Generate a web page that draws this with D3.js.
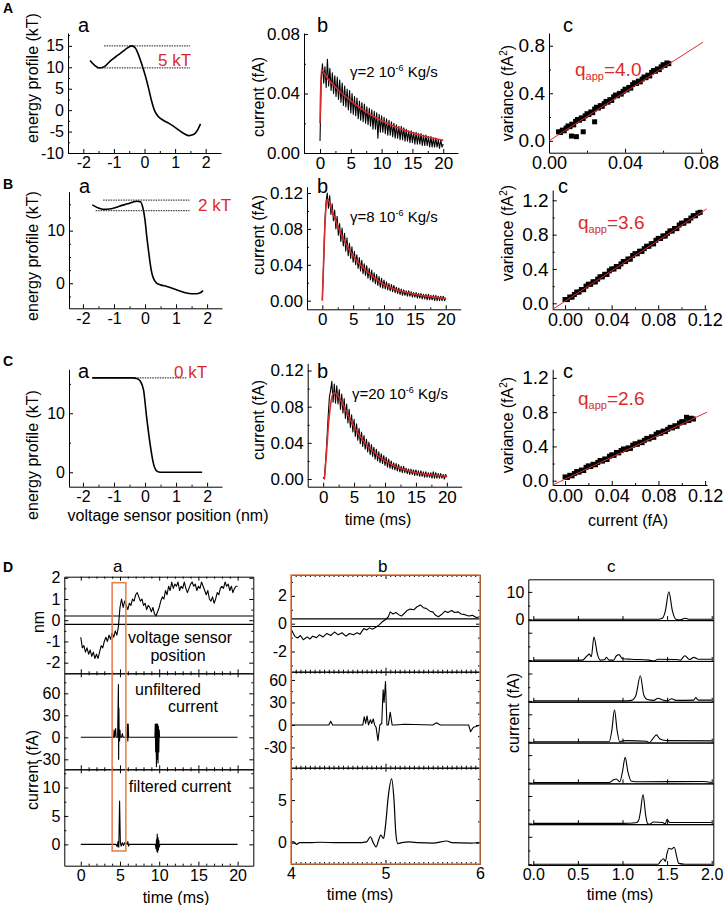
<!DOCTYPE html>
<html>
<head>
<meta charset="utf-8">
<title>Voltage sensor energy profiles and gating currents</title>
<script src="https://d3js.org/d3.v7.min.js"></script>
<style>
  body { margin: 0; background: #fff; }
  text { font-family: "Liberation Sans", Arial, sans-serif; fill: #000; }
</style>
</head>
<body>
<script>
// ---------- data ----------
// energy profiles (position nm, energy kT)
const posA = [-1.78,-1.62,-1.46,-1.3,-1.13,-0.95,-0.8,-0.6,-0.42,-0.3,-0.18,-0.08,0.02,0.13,0.23,0.34,0.45,0.6,0.8,1.0,1.15,1.3,1.45,1.6,1.72,1.83];
const energyA = [11.6,10.4,9.85,10.2,11.4,12.4,13.2,14.3,15.0,14.5,12.6,10.5,8.2,5.2,2.2,-0.3,-1.5,-2.3,-3.1,-4.0,-4.8,-5.5,-5.95,-5.7,-4.8,-3.2];
const posB = [-1.7,-1.5,-1.35,-1.15,-0.95,-0.75,-0.55,-0.4,-0.27,-0.15,-0.08,0.0,0.05,0.11,0.17,0.22,0.3,0.38,0.5,0.7,0.9,1.1,1.3,1.5,1.65,1.78,1.87];
const energyB = [14.9,14.3,14.05,14.1,14.4,14.8,15.1,15.4,15.6,15.5,14.6,12.0,9.2,6.3,3.6,1.9,0.6,0.0,-0.3,-0.6,-1.0,-1.4,-1.8,-2.0,-2.0,-1.8,-1.4];
const posC = [-1.7,-1.2,-0.7,-0.4,-0.27,-0.16,-0.05,0.05,0.16,0.27,0.38,0.5,0.8,1.2,1.5,1.84];
const energyC = [16,16,16,16,15.9,15.5,14.0,9.4,4.9,1.5,0.2,0,0,0,0,0];
// barrier levels: [energy, from, to]
const levelsA = [[15.0,-1.32,1.49],[9.84,-1.56,1.49]];
const levelsB = [[15.8,-1.35,1.43],[13.8,-1.59,1.43]];
const levelsC = [[16.0,-1.7,1.35]];
const barrierLabels = ["5 kT","2 kT","0 kT"];

// mean gating currents, sampled every 0.2 ms from 0 to 20 ms (fA)
const sampleDt = 0.2;
const currentA = [0.008,0.050,0.060,0.047,0.058, 0.044,0.063,0.045,0.057,0.042, 0.054,0.040,0.052,0.038,0.051,
  0.036,0.049,0.034,0.047,0.032, 0.045,0.031,0.043,0.029,0.042, 0.027,0.040,0.026,0.038,0.025,
  0.037,0.023,0.035,0.022,0.034, 0.021,0.033,0.020,0.031,0.019, 0.030,0.018,0.029,0.016,0.028,
  0.016,0.027,0.010,0.026,0.014, 0.025,0.014,0.024,0.013,0.023, 0.012,0.022,0.012,0.021,0.011,
  0.020,0.010,0.019,0.010,0.018, 0.009,0.018,0.009,0.017,0.008, 0.016,0.008,0.015,0.007,0.015,
  0.007,0.014,0.006,0.014,0.006, 0.013,0.006,0.013,0.005,0.012, 0.005,0.012,0.005,0.011,0.004,
  0.011,0.004,0.010,0.004,0.010, 0.004,0.009,0.003,0.009,0.004, 0.006];
const currentB = [0.001,0.040,0.085,0.110,0.120, 0.103,0.117,0.096,0.108,0.089, 0.101,0.080,0.094,0.073,0.086,
  0.066,0.081,0.061,0.075,0.055, 0.070,0.050,0.064,0.047,0.060, 0.043,0.055,0.040,0.051,0.036,
  0.048,0.033,0.045,0.030,0.041, 0.028,0.039,0.025,0.036,0.023, 0.034,0.021,0.031,0.019,0.029,
  0.017,0.027,0.015,0.025,0.014, 0.023,0.013,0.021,0.012,0.019, 0.011,0.018,0.010,0.017,0.009,
  0.015,0.008,0.014,0.007,0.013, 0.006,0.012,0.006,0.011,0.005, 0.011,0.005,0.010,0.004,0.009,
  0.004,0.009,0.003,0.008,0.003, 0.008,0.002,0.007,0.002,0.007, 0.001,0.007,0.001,0.006,0.001,
  0.006,0.000,0.006,0.000,0.005, 0.000,0.005,0.000,0.005,0.000, 0.003];
const currentC = [0.002,0.000,0.020,0.042,0.068, 0.090,0.098,0.108,0.085,0.105, 0.084,0.103,0.083,0.099,0.077,
  0.094,0.073,0.089,0.067,0.083, 0.062,0.077,0.057,0.071,0.052, 0.066,0.047,0.061,0.043,0.056,
  0.039,0.052,0.036,0.048,0.033, 0.044,0.030,0.041,0.027,0.038, 0.025,0.035,0.022,0.033,0.020,
  0.030,0.018,0.028,0.017,0.026, 0.015,0.024,0.013,0.022,0.012, 0.020,0.011,0.018,0.010,0.017,
  0.009,0.016,0.008,0.014,0.007, 0.014,0.007,0.012,0.006,0.011, 0.005,0.011,0.005,0.010,0.004,
  0.010,0.004,0.009,0.003,0.009, 0.003,0.008,0.002,0.008,0.002, 0.007,0.002,0.007,0.001,0.008,
  0.001,0.007,0.001,0.006,0.001, 0.006,0.001,0.005,0.000,0.005, 0.002];
// fitted curves (red)
const fitTimeA = [0,0.2,1,2,3,4,5,6,8,10,12,14,16,18,20];
const fitCurA = [0.02,0.056,0.0513,0.0466,0.0424,0.0385,0.035,0.0318,0.0263,0.0217,0.018,0.0149,0.0123,0.0102,0.0085];
const fitTimeB = [0,0.2,0.4,0.6,0.8,1.0,1.5,2,3,4,5,6,7,8,10,12,14,16,18,20];
const fitCurB = [0,0.04,0.08,0.104,0.113,0.112,0.102,0.092,0.075,0.061,0.05,0.041,0.034,0.028,0.018,0.012,0.0085,0.0058,0.004,0.0026];
const fitTimeC = [0.2,0.5,0.8,1.1,1.4,1.7,2.0,2.5,3,4,5,6,7,8,10,12,14,16,18,20];
const fitCurC = [0,0.025,0.055,0.077,0.09,0.095,0.095,0.091,0.085,0.071,0.058,0.047,0.038,0.031,0.02,0.013,0.0085,0.0058,0.0042,0.0032];
const gammaValues = ["2","8","20"];

// variance vs mean current
const meanA = [0.005,0.006,0.007,0.008,0.009,0.010,0.011,0.012,0.013,0.014,0.015,0.016,0.017,0.018,0.019,0.020,
  0.021,0.022,0.023,0.024,0.025,0.026,0.027,0.028,0.029,0.030,0.031,0.032,0.033,0.034,0.035,0.036,0.037,0.038,
  0.039,0.040,0.041,0.042,0.043,0.044,0.045,0.046,0.047,0.048,0.049,0.050,0.051,0.052,0.053,0.054,0.055,0.056,
  0.057,0.058,0.059,0.060,0.061,0.062,0.063,0.0118,0.0144,0.018,0.024];
const varA = [0.076,0.070,0.090,0.084,0.107,0.125,0.119,0.140,0.134,0.164,0.179,0.173,0.193,0.187,0.210,0.228,
  0.222,0.243,0.237,0.267,0.282,0.276,0.296,0.290,0.313,0.331,0.325,0.346,0.340,0.370,0.385,0.379,0.399,0.393,
  0.416,0.434,0.428,0.449,0.443,0.473,0.488,0.482,0.502,0.496,0.519,0.537,0.531,0.552,0.546,0.576,0.591,0.585,
  0.605,0.599,0.622,0.640,0.634,0.655,0.649,0.040,0.035,0.076,0.160];
const meanB = [0.000,0.002,0.004,0.006,0.008,0.010,0.012,0.014,0.016,0.018,0.020,0.022,0.024,0.026,0.028,0.030,
  0.032,0.034,0.036,0.038,0.040,0.042,0.044,0.046,0.048,0.050,0.052,0.054,0.056,0.058,0.060,0.062,0.064,0.066,
  0.068,0.070,0.072,0.074,0.076,0.078,0.080,0.082,0.084,0.086,0.088,0.090,0.092,0.094,0.096,0.098,0.100,0.102,
  0.104,0.106,0.108,0.110,0.112,0.114,0.116];
const varB = [0.044,0.043,0.073,0.071,0.103,0.131,0.130,0.160,0.158,0.200,0.222,0.221,0.251,0.249,0.281,0.309,
  0.308,0.338,0.336,0.378,0.400,0.399,0.429,0.427,0.459,0.487,0.486,0.516,0.514,0.556,0.578,0.577,0.607,0.605,
  0.637,0.665,0.664,0.694,0.692,0.734,0.756,0.755,0.785,0.783,0.815,0.843,0.842,0.872,0.870,0.912,0.934,0.933,
  0.963,0.961,0.993,1.021,1.020,1.050,1.060];
const meanC = [0.000,0.002,0.004,0.006,0.008,0.010,0.012,0.014,0.016,0.018,0.020,0.022,0.024,0.026,0.028,0.030,
  0.032,0.034,0.036,0.038,0.040,0.042,0.044,0.046,0.048,0.050,0.052,0.054,0.056,0.058,0.060,0.062,0.064,0.066,
  0.068,0.070,0.072,0.074,0.076,0.078,0.080,0.082,0.084,0.086,0.088,0.090,0.092,0.094,0.096,0.098,0.100,0.102,
  0.104,0.106,0.108,0.110];
const varC = [0.044,0.038,0.063,0.057,0.084,0.107,0.100,0.125,0.119,0.156,0.173,0.167,0.192,0.186,0.213,0.236,
  0.229,0.254,0.248,0.285,0.302,0.296,0.330,0.325,0.352,0.370,0.365,0.383,0.377,0.414,0.431,0.425,0.450,0.444,
  0.471,0.494,0.487,0.512,0.506,0.543,0.560,0.554,0.579,0.573,0.600,0.623,0.616,0.641,0.635,0.672,0.689,0.683,
  0.740,0.702,0.729,0.720];
const fitMeanA = [0,0.081], fitVarA = [0,0.83];
const fitMeanB = [-0.0106,0.1216], fitVarB = [-0.07,1.10];
const fitMeanC = [-0.0106,0.1216], fitVarC = [-0.05,0.80];
const qApp = ["4.0","3.6","2.6"];

// single channel: sensor position every 0.2 ms (nm)
const sensorPos = [-0.8,-1.3,-1.2,-1.5,-1.3, -1.6,-1.4,-1.7,-1.5,-1.8, -1.6,-1.8,-1.5,-1.2,-1.3,
  -1.0,-0.8,-1.0,-0.7,-0.9, -0.6,-0.8,-0.5,-0.7,-0.3, 0.6,1.0,0.6,0.9,0.7, 0.5,0.8,0.7,1.0,0.9,
  1.2,1.3,1.1,0.9,1.0, 0.7,0.8,0.5,0.7,0.6, 0.4,0.6,0.3,0.2,0.4, 0.6,0.9,1.1,1.0,1.4,
  1.2,1.6,1.4,1.8,1.5, 1.7,1.6,1.8,1.4,1.6, 1.5,1.8,1.5,1.3,1.5, 1.7,1.8,1.6,1.7,1.4,
  1.6,1.5,1.8,1.6,1.4, 1.2,1.4,1.0,0.9,1.1, 0.8,1.0,1.3,1.2,1.5, 1.6,1.5,1.8,1.6,1.7,
  1.4,1.6,1.3,1.5,1.6, 1.6];
const gateLevels = [0.2,-0.2];
const rawT = [0,4.2,4.25,4.3,4.45,4.5,4.55,4.7,4.8,4.83,4.86,4.9,4.95,5.0,5.05,5.2,5.3,5.4,5.9,5.95,6.0,6.05,6.1,6.2,
  9.45,9.5,9.55,9.6,9.65,9.7,9.75,9.8,9.85,9.9,9.95,10.0,10.05,10.1,20];
const rawI = [0,0,10,0,12,0,0,0,72,-30,40,0,-5,10,0,0,5,0,0,18,-5,18,0,0,0,18,-20,18,-40,18,-30,18,-35,15,-20,10,0,0,0];
const filtT = [0,4.5,4.65,4.75,4.85,4.95,5.05,5.15,5.3,5.45,5.6,5.9,6.0,6.1,6.2,9.5,9.6,9.65,9.7,9.75,9.8,9.85,9.9,9.95,10.0,10.1,20];
const filtI = [0,0,-0.4,0.5,-0.5,7.6,0.3,-0.3,0.3,-0.2,0.3,0,0.5,-0.3,0,0,-0.8,0.8,-1.2,1.8,-1.4,1.2,-1.0,0.7,-0.5,0,0];
const zoomWindow = [4.0,5.75];

// expanded window 4-6 ms
const zoomPosT = [4.005,4.04,4.07,4.1,4.13,4.17,4.2,4.23,4.27,4.3,4.34,4.38,4.42,4.46,4.5,4.54,4.58,4.62,4.66,4.7,
  4.73,4.77,4.8,4.83,4.86,4.9,4.93,4.96,5.0,5.03,5.05,5.08,5.11,5.14,5.17,5.2,5.23,5.26,5.3,5.33,5.37,5.4,5.43,
  5.47,5.5,5.53,5.56,5.6,5.63,5.66,5.7,5.73,5.77,5.8,5.84,5.88,5.92,5.96,6.0];
const zoomPos = [-0.43,-0.91,-1.03,-0.85,-1.15,-0.95,-1.1,-0.9,-1.0,-0.8,-0.95,-0.7,-0.85,-0.6,-0.8,-0.65,-0.9,-0.7,-0.8,-0.65,
  -0.75,-0.35,-0.45,-0.3,-0.4,-0.25,-0.1,0.1,0.3,0.5,0.85,0.7,0.8,0.65,0.55,0.75,0.95,1.05,1.0,1.2,1.35,1.15,1.1,
  0.9,0.85,0.6,0.5,0.7,0.9,0.8,0.95,0.8,0.85,0.7,0.65,0.55,0.6,0.45,0.5];
const zoomGateLevels = [0.35,-0.2];
const zoomRawT = [4.0,4.4,4.42,4.44,4.76,4.775,4.79,4.805,4.82,4.84,4.855,4.87,4.885,4.9,4.92,4.94,4.96,4.975,4.985,5.0,
  5.015,5.03,5.05,5.07,5.1,5.2,5.5,5.54,5.58,5.88,5.9,5.93,5.96,6.0];
const zoomRawI = [0,0,5,0,0,11,2,12,0,7,2,8,0,-3,-21,0,2,47,30,58,0,0,17,0,0,1,0,3,0,0,-9,-3,-2,0];
const zoomFiltT = [4.0,4.03,4.06,4.09,4.2,4.3,4.5,4.7,4.8,4.84,4.87,4.9,4.93,4.95,4.98,5.0,5.03,5.065,5.09,5.11,5.13,
  5.17,5.25,5.35,5.5,5.65,5.7,5.9,6.0];
const zoomFiltI = [0.1,0.1,-0.2,0,0,0.05,0,0,0.1,0.7,0,-0.5,0.4,0.9,0.5,2.0,5.5,7.5,5.0,1.0,-0.1,0,0.1,0,-0.05,0.2,0,-0.05,0.05];

// seven filtered single-channel sweeps (time ms, current fA)
const sweepT = [
  [0,1.4,1.45,1.48,1.52,1.56,1.6,1.65,1.7,1.75,2.0],
  [0,0.55,0.6,0.63,0.65,0.68,0.72,0.75,0.8,0.82,0.85,0.9,0.93,0.96,1.0,1.1,1.3,1.35,1.4,1.6,1.65,1.7,1.75,1.8,1.85,2.0],
  [0,0.98,1.0,1.1,1.15,1.2,1.24,1.28,1.35,1.4,1.45,1.5,1.55,1.6,1.8,1.82,1.85,2.0],
  [0,0.85,0.88,0.91,0.94,0.97,1.0,1.05,1.27,1.3,1.35,1.38,1.42,1.5,2.0],
  [0,0.85,0.9,0.93,0.97,1.0,1.03,1.06,1.1,1.2,1.9,2.0],
  [0,1.0,1.15,1.18,1.2,1.23,1.26,1.28,1.3,1.35,1.45,1.48,1.5,1.53,1.6,2.0],
  [0,1.4,1.43,1.46,1.48,1.5,1.52,1.55,1.58,1.61,1.63,1.7,2.0]
];
const sweepI = [
  [0,0,0.5,3,10,3,0,-0.2,0.4,0,0],
  [0,0,1.5,2.2,1.2,8.4,2,0,0.2,1,0,0,1.5,2,0.5,0.3,0,-0.3,0.3,0.2,0,1.6,0.2,1.0,0.3,0.3],
  [0,0,0,0.2,2,9.2,2,0.5,0.2,1,0.3,0,0.8,0.2,0.3,1.2,0.3,0.3],
  [0,0,4,11.7,4,0,0.3,0.4,0.2,-0.3,1.5,2.5,1,0.4,0.3],
  [0,0,1,1.3,0.3,4,9.2,4,0.5,0.3,0.4,0],
  [0,0,0.2,1,4,10.5,3,0,-0.3,0.5,0.3,-0.2,1.5,0.3,0.3,0.3],
  [0,0,1.2,2,1,4,5.8,5.5,6.2,2.5,0.3,0,0]
];

// ---------- drawing ----------
const RED = "#dc2a2a", ORANGE = "#e57b45";
const svg = d3.select("body").append("svg").attr("width", 726).attr("height", 905);

function mk(xr, xd, yr, yd) {
  return { x: d3.scaleLinear().domain(xd).range(xr), y: d3.scaleLinear().domain(yd).range(yr) };
}
const fmtInt = d => String(d);
const fmt2 = d3.format(".2f"), fmt1 = d3.format(".1f");

function axis(p, side, major, minor, fmt, fs, labels = true) {
  const [x0, x1] = p.x.range(), [y0, y1] = p.y.range();
  const pos = { left: [x0, 0], right: [x1, 0], bottom: [0, y0], top: [0, y1] }[side];
  const maker = { left: d3.axisLeft, right: d3.axisRight, bottom: d3.axisBottom, top: d3.axisTop }[side];
  const sc = (side === "left" || side === "right") ? p.y : p.x;
  const g = svg.append("g").attr("transform", `translate(${pos[0]},${pos[1]})`);
  g.call(maker(sc).tickValues(major).tickFormat(labels ? fmt : "").tickSizeInner(-4).tickSizeOuter(0).tickPadding(4));
  if (minor) {
    const m = g.append("g").call(maker(sc).tickValues(minor).tickFormat("").tickSizeInner(-2).tickSizeOuter(0));
    m.select(".domain").remove();
  }
  g.selectAll("text").style("font-size", fs + "px");
  g.selectAll("path,line").attr("stroke", "#000");
  return g;
}

function path(p, xs, ys, color, width, curve) {
  const line = d3.line().x((d, i) => p.x(xs[i])).y(d => p.y(d)).curve(curve || d3.curveLinear);
  return svg.append("path").datum(ys).attr("d", line).attr("fill", "none")
    .attr("stroke", color).attr("stroke-width", width).attr("stroke-linejoin", "round");
}
function sampled(ys) { return ys.map((_, i) => i * sampleDt); }

function text(x, y, str, fs, opts = {}) {
  const t = svg.append("text").attr("x", x).attr("y", y).text(str).style("font-size", fs + "px");
  if (opts.anchor) t.attr("text-anchor", opts.anchor);
  if (opts.color) t.style("fill", opts.color);
  if (opts.bold) t.style("font-weight", "bold");
  return t;
}
function vtext(cx, cy, str, fs) {
  return svg.append("text").attr("transform", `translate(${cx},${cy}) rotate(-90)`)
    .attr("text-anchor", "middle").attr("dy", "0.35em").style("font-size", fs + "px").text(str);
}
function varianceLabel(cx, cy) {
  const t = svg.append("text").attr("transform", `translate(${cx},${cy}) rotate(-90)`)
    .attr("text-anchor", "middle").attr("dy", "0.35em").style("font-size", "16px");
  t.append("tspan").text("variance (fA");
  t.append("tspan").attr("dy", -6).style("font-size", "10px").text("2");
  t.append("tspan").attr("dy", 6).text(")");
}
function gammaLabel(x, y, g) {
  const t = svg.append("text").attr("x", x).attr("y", y).style("font-size", "15px");
  t.append("tspan").text("\u03b3=" + g + " 10");
  t.append("tspan").attr("dy", -6).style("font-size", "9px").text("-6");
  t.append("tspan").attr("dy", 6).text(" Kg/s");
}
function qLabel(x, y, q) {
  const t = svg.append("text").attr("x", x).attr("y", y).style("font-size", "19px").style("fill", RED);
  t.append("tspan").text("q");
  t.append("tspan").attr("dy", 4).style("font-size", "11px").text("app");
  t.append("tspan").attr("dy", -4).text("=" + q);
}

// ---- rows A, B, C ----
const rowsY = [
  { a: [153, 33], ad: [-10, 18], b: [153, 33], bd: [0, 0.0807], c: [152.7, 33], cd: [-0.1, 0.907] },
  { a: [308.3, 191.7], ad: [-4.75, 17.4], b: [309.3, 186.7], bd: [-0.0096, 0.127], c: [309.3, 190], cd: [-0.07, 1.32] },
  { a: [486.7, 369.3], ad: [-2.45, 17.46], b: [486.7, 363.3], bd: [-0.0085, 0.128], c: [485, 369.3], cd: [-0.05, 1.3] }
];
const rowsX = [
  { a: [68, 221], ad: [-2.5, 2.5], b: [304, 458], bd: [-2.6, 22.4], c: [549, 703], cd: [0, 0.081] },
  { a: [69, 222], ad: [-2.45, 2.48], b: [307, 460.7], bd: [-2.48, 22.43], c: [552.7, 706.7], cd: [-0.0106, 0.1216] },
  { a: [69, 222], ad: [-2.45, 2.48], b: [307.7, 461.7], bd: [-2.5, 22.4], c: [552.7, 707], cd: [-0.0106, 0.1216] }
];
const energies = [[posA, energyA, levelsA], [posB, energyB, levelsB], [posC, energyC, levelsC]];
const currents = [[currentA, fitTimeA, fitCurA], [currentB, fitTimeB, fitCurB], [currentC, fitTimeC, fitCurC]];
const variances = [[meanA, varA, fitMeanA, fitVarA], [meanB, varB, fitMeanB, fitVarB], [meanC, varC, fitMeanC, fitVarC]];
const energyTicks = [[[-10, -5, 0, 5, 10, 15], [-7.5, -2.5, 2.5, 7.5, 12.5, 17.5]], [[0, 10], [-2.5, 2.5, 5, 7.5, 12.5, 15]], [[0, 10], [5, 15]]];
const curTicks = [[[0, 0.04, 0.08], [0.02, 0.06]], [[0, 0.04, 0.08, 0.12], [0.02, 0.06, 0.1]], [[0, 0.04, 0.08, 0.12], [0.02, 0.06, 0.1]]];
const varTicks = [[[0, 0.4, 0.8], [0.2, 0.6]], [[0, 0.4, 0.8, 1.2], [0.2, 0.6, 1.0]], [[0, 0.4, 0.8, 1.2], [0.2, 0.6, 1.0]]];
const meanTicks = [[[0, 0.04, 0.08], [0.02, 0.06]], [[0, 0.04, 0.08, 0.12], [0.02, 0.06, 0.1]], [[0, 0.04, 0.08, 0.12], [0.02, 0.06, 0.1]]];

const rowLetter = [["A", 13], ["B", 189], ["C", 366]];
const subLabelY = [32, 193, 378];
const barrierPos = [[158, 66], [198, 211], [174, 378]];
const gammaPos = [[350, 77], [350, 222], [352, 399]];
const qPos = [[575, 76], [578, 229], [578, 405]];
const ylabY = [[78, 97, 93], [256, 235, 233], [455, 420, 425]];

for (let r = 0; r < 3; r++) {
  const X = rowsX[r], Y = rowsY[r];
  // a: energy profile
  const pa = mk(X.a, X.ad, Y.a, Y.ad);
  axis(pa, "left", energyTicks[r][0], energyTicks[r][1], fmtInt, 16);
  axis(pa, "bottom", [-2, -1, 0, 1, 2], [-1.5, -0.5, 0.5, 1.5], fmtInt, 16);
  const [ep, ee, lv] = energies[r];
  lv.forEach(l => {
    svg.append("line").attr("x1", pa.x(l[1])).attr("x2", pa.x(l[2])).attr("y1", pa.y(l[0])).attr("y2", pa.y(l[0]))
      .attr("stroke", "#444").attr("stroke-width", 1.3).attr("stroke-dasharray", "1.5,1");
  });
  path(pa, ep, ee, "#000", 1.6, d3.curveMonotoneX);
  text(barrierPos[r][0], barrierPos[r][1], barrierLabels[r], 17, { color: RED });
  vtext(32, ylabY[r][0], "energy profile (kT)", 16);

  // b: mean current
  const pb = mk(X.b, X.bd, Y.b, Y.bd);
  axis(pb, "left", curTicks[r][0], curTicks[r][1], fmt2, 17);
  axis(pb, "bottom", [0, 5, 10, 15, 20], [2.5, 7.5, 12.5, 17.5], fmtInt, 17);
  const [cur, ft, fc] = currents[r];
  path(pb, sampled(cur), cur, "#000", 1.1);
  path(pb, ft, fc, RED, 1.6, d3.curveMonotoneX);
  gammaLabel(gammaPos[r][0], gammaPos[r][1], gammaValues[r]);
  vtext(258, ylabY[r][1], "current (fA)", 16);

  // c: variance vs mean
  const pc = mk(X.c, X.cd, Y.c, Y.cd);
  axis(pc, "left", varTicks[r][0], varTicks[r][1], fmt1, 19);
  axis(pc, "bottom", meanTicks[r][0], meanTicks[r][1], fmt2, 18);
  const [mx, vy, fx, fy] = variances[r];
  svg.append("g").selectAll("rect").data(mx).join("rect")
    .attr("x", d => pc.x(d) - 2.5).attr("y", (d, i) => pc.y(vy[i]) - 2.5)
    .attr("width", 5).attr("height", 5).attr("fill", "#000");
  path(pc, fx, fy, RED, 1);
  qLabel(qPos[r][0], qPos[r][1], qApp[r]);
  varianceLabel(507, ylabY[r][2]);

  text(3, rowLetter[r][1], rowLetter[r][0], 14, { bold: true });
  text(r === 1 ? 79 : 78, subLabelY[r], "a", 20);
  text(317, subLabelY[r], "b", 20);
  text(r === 1 ? 558 : 563, subLabelY[r], "c", 20);
}
text(168, 521, "voltage sensor position (nm)", 16, { anchor: "middle" });
text(378, 525, "time (ms)", 16, { anchor: "middle" });
text(628, 526, "current (fA)", 16, { anchor: "middle" });

// ---- row D ----
text(3, 572, "D", 14, { bold: true });
text(113, 572, "a", 17);
text(378, 572, "b", 17);
text(607, 572, "c", 17);

// D a
const daX = [64.3, 253.3], daXd = [-2.1, 22];
const da1 = mk(daX, daXd, [673.3, 576.7], [-2.5, 2.05]);
const da2 = mk(daX, daXd, [769.3, 673.3], [-43.6, 87.3]);
const da3 = mk(daX, daXd, [865.7, 769.3], [-3.75, 13.2]);
const msMinor = d3.range(0, 21).filter(v => v % 5 !== 0);
[[da1, [-2, -1, 0, 1, 2], [-1.5, -0.5, 0.5, 1.5]], [da2, [-30, 0, 30, 60], [-15, 15, 45, 75]], [da3, [0, 5, 10], [2.5, 7.5, 12.5]]]
  .forEach(([p, maj, mnr], i) => {
    axis(p, "left", maj, mnr, fmtInt, 16);
    axis(p, "right", maj, mnr, fmtInt, 16, false);
    axis(p, "top", [0, 5, 10, 15, 20], msMinor, fmtInt, 16, false);
    axis(p, "bottom", [0, 5, 10, 15, 20], msMinor, fmtInt, 16, i === 2);
  });
gateLevels.forEach(v => svg.append("line").attr("x1", daX[0]).attr("x2", daX[1])
  .attr("y1", da1.y(v)).attr("y2", da1.y(v)).attr("stroke", "#000").attr("stroke-width", 1.2));
path(da1, sampled(sensorPos), sensorPos, "#000", 1.1);
path(da2, rawT, rawI, "#000", 1.1);
path(da3, filtT, filtI, "#000", 1.1);
svg.append("rect").attr("x", da1.x(zoomWindow[0])).attr("y", 582.7)
  .attr("width", da1.x(zoomWindow[1]) - da1.x(zoomWindow[0])).attr("height", 851 - 582.7)
  .attr("fill", "none").attr("stroke", ORANGE).attr("stroke-width", 1.5);
text(180, 643, "voltage sensor", 16, { anchor: "middle" });
text(178, 661, "position", 16, { anchor: "middle" });
text(168, 695, "unfiltered", 16, { anchor: "middle" });
text(193, 712, "current", 16, { anchor: "middle" });
text(180, 792, "filtered current", 16, { anchor: "middle" });
vtext(38, 622, "nm", 16);
vtext(32, 770, "current (fA)", 16);
text(176, 903, "time (ms)", 16, { anchor: "middle" });

// D b
const dbX = [291, 480], dbXd = [4, 6];
const db1 = mk(dbX, dbXd, [671.7, 575], [-3.45, 3.5]);
const db2 = mk(dbX, dbXd, [767.7, 671.7], [-57, 71]);
const db3 = mk(dbX, dbXd, [864, 767.7], [-2.5, 8.8]);
const fineMinor = d3.range(4, 6.001, 0.05).filter(v => Math.abs(v - Math.round(v)) > 1e-6);
[[db1, [-2, 0, 2], [-3, -1, 1, 3]], [db2, [-30, 0, 30, 60], [-45, -15, 15, 45]], [db3, [0, 5], [-2.5, 2.5, 7.5]]]
  .forEach(([p, maj, mnr], i) => {
    axis(p, "left", maj, mnr, fmtInt, 16);
    axis(p, "right", maj, mnr, fmtInt, 16, false);
    axis(p, "top", [4, 5, 6], fineMinor, fmtInt, 16, false);
    axis(p, "bottom", [4, 5, 6], fineMinor, fmtInt, 16, i === 2);
  });
zoomGateLevels.forEach(v => svg.append("line").attr("x1", dbX[0]).attr("x2", dbX[1])
  .attr("y1", db1.y(v)).attr("y2", db1.y(v)).attr("stroke", "#000").attr("stroke-width", 1.2));
path(db1, zoomPosT, zoomPos, "#000", 1.1);
path(db2, zoomRawT, zoomRawI, "#000", 1.1);
path(db3, zoomFiltT, zoomFiltI, "#000", 1.2, d3.curveMonotoneX);
svg.append("rect").attr("x", dbX[0]).attr("y", 575).attr("width", dbX[1] - dbX[0]).attr("height", 864 - 575)
  .attr("fill", "none").attr("stroke", ORANGE).attr("stroke-width", 1.5);
text(360, 900, "time (ms)", 16, { anchor: "middle" });

// D c
const dcX = [528.3, 713.3], dcXd = [-0.056, 2.018];
const stripTop = 579.3, stripH = (865 - 579.3) / 7;
sweepT.forEach((ts, i) => {
  const top = stripTop + i * stripH;
  const p = mk(dcX, dcXd, [top + stripH, top], [-0.3, 14.6]);
  axis(p, "left", [0, 10], [5], fmtInt, 16, i === 0);
  axis(p, "right", [], null, fmtInt, 16, false);
  axis(p, "top", [], null, fmtInt, 16, false);
  axis(p, "bottom", [0, 0.5, 1, 1.5, 2], null, fmt1, 16, i === 6);
  path(p, ts, sweepI[i], "#000", 1.1, d3.curveMonotoneX);
});
vtext(513, 713, "current (fA)", 16);
text(620, 900, "time (ms)", 16, { anchor: "middle" });
</script>
</body>
</html>
